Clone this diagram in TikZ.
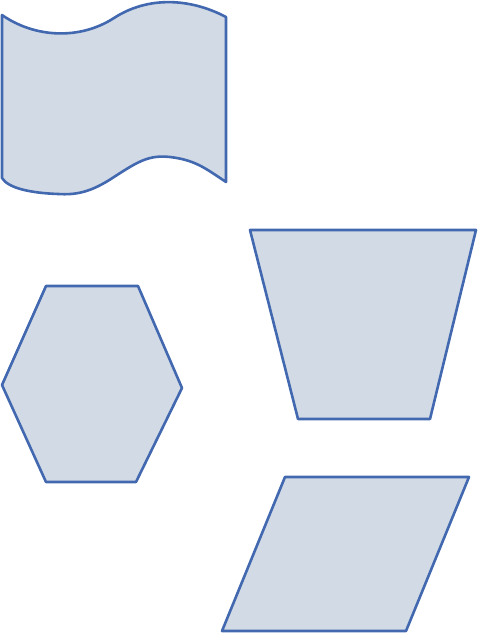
\documentclass[tikz,border=0pt]{standalone}
\usepackage{tikz}
\definecolor{shapefill}{HTML}{D1DAE5}
\definecolor{shapeline}{HTML}{4268B0}
\tikzset{
  shapestyle/.style={draw=shapeline, fill=shapefill, line width=2.6pt, line join=round}
}
\begin{document}
\begin{tikzpicture}[x=1pt,y=-1pt]
\useasboundingbox (0,0) rectangle (479,634);
% punched tape / wavy flag
\draw[shapestyle] (2,15) .. controls (35,38) and (80,40) .. (114,18)
  .. controls (148,-4) and (190,-2) .. (226,17)
  -- (226,182)
  .. controls (205,168) and (195,160) .. (170,157)
  .. controls (150,155) and (140,160) .. (114,177)
  .. controls (90,193) and (75,195) .. (58,194)
  .. controls (30,193) and (8,188) .. (2,178) -- cycle;
% hexagon
\draw[shapestyle] (46,286) -- (138,286) -- (182,388) -- (136,482) -- (46,482) -- (2,385) -- cycle;
% trapezoid
\draw[shapestyle] (250,230) -- (476,230) -- (430,419) -- (298,419) -- cycle;
% parallelogram
\draw[shapestyle] (285,477) -- (469,477) -- (406,631) -- (222,631) -- cycle;
\end{tikzpicture}
\end{document}
